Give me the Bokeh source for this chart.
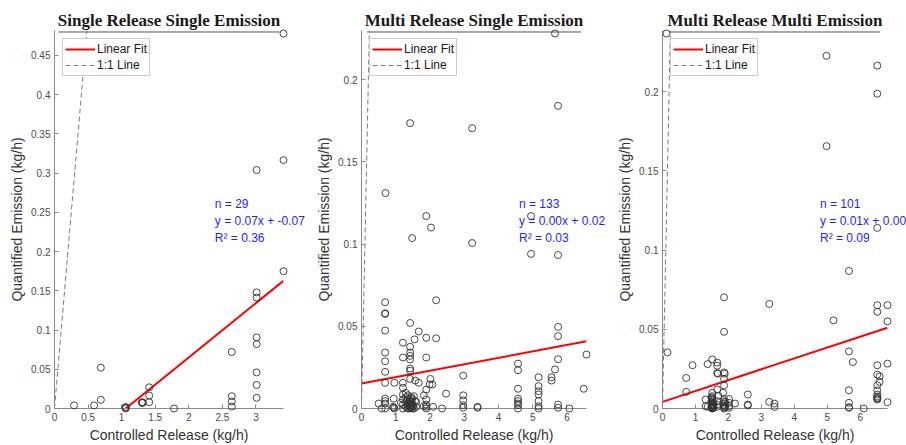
from bokeh.plotting import figure
from bokeh.layouts import row
from bokeh.models import Range1d, FixedTicker, Legend, LegendItem, ColumnDataSource
from bokeh.core.properties import value
from bokeh.embed import file_html
from bokeh.resources import INLINE

# ---------------- data ----------------
titles = ["Single Release Single Emission",
          "Multi Release Single Emission",
          "Multi Release Multi Emission"]

x_sse = [0.29, 0.59, 0.69, 0.69, 1.06, 1.06, 1.06, 1.30, 1.31, 1.31, 1.41, 1.41, 1.41, 1.78,
         2.64, 2.64, 2.64, 2.64, 3.01, 3.01, 3.01, 3.01, 3.01, 3.01, 3.01, 3.01, 3.41, 3.41, 3.41]
y_sse = [0.004, 0.004, 0.052, 0.011, 0.000, 0.001, 0.002, 0.0076, 0.007, 0.008, 0.008, 0.0165, 0.027, 0.000,
         0.072, 0.0157, 0.009, 0.0025, 0.304, 0.148, 0.1415, 0.0907, 0.082, 0.046, 0.030, 0.0136, 0.478, 0.3166, 0.175]

x_mrse = [5.65, 5.74, 1.42, 3.23, 0.70, 1.89, 4.95, 2.03, 1.48, 3.23, 4.95, 5.74,
          0.69, 0.69, 0.69, 0.69, 0.69, 0.69, 0.69, 0.69, 0.69, 0.69, 0.69,
          0.50, 0.59,
          0.96, 0.94, 0.92, 0.94,
          1.21, 1.21, 1.21, 1.21, 1.21, 1.21, 1.21,
          1.15, 1.29, 1.34, 1.34,
          1.42, 1.42, 1.42, 1.42, 1.42, 1.42, 1.42, 1.42, 1.42, 1.42, 1.42, 1.42, 1.42, 1.42,
          1.55, 1.67, 1.57, 1.67, 1.53, 1.56, 1.53,
          1.82, 1.82, 1.89, 1.89, 1.89, 1.89, 1.89,
          2.01, 2.07, 1.99, 2.09,
          2.18, 2.18,
          2.35, 2.47,
          2.97, 2.97, 2.97, 2.97,
          3.39, 3.39,
          4.57, 4.57, 4.57, 4.57, 4.57, 4.57, 4.57,
          5.17, 5.17, 5.17, 5.17, 5.17, 5.17,
          5.55, 5.55, 5.65,
          5.74, 5.74, 5.74, 5.74, 5.74,
          6.07, 6.49, 6.57,
          1.30, 1.30, 1.30, 1.36, 1.36, 1.40, 1.40, 1.40, 1.45, 1.45, 1.45, 1.45,
          1.48, 1.48, 1.48, 1.50, 1.50, 1.60, 1.60, 0.96, 1.89, 1.89, 0.69, 4.57, 5.17, 2.97, 1.21]
y_mrse = [0.228, 0.184, 0.1735, 0.1704, 0.131, 0.117, 0.117, 0.110, 0.1036, 0.1006, 0.094, 0.0933,
          0.0646, 0.0579, 0.0575, 0.0474, 0.034, 0.0287, 0.0223, 0.0156, 0.006, 0.0045, 0.003,
          0.003, 0.0,
          0.0156, 0.006, 0.001, 0.0005,
          0.040, 0.031, 0.0156, 0.0126, 0.0085, 0.0055, 0.0024,
          0.0034, 0.0095, 0.0045, 0.0,
          0.052, 0.0375, 0.034, 0.032, 0.0298, 0.0243, 0.023, 0.018, 0.006, 0.004, 0.003, 0.002, 0.001, 0.0005,
          0.042, 0.0468, 0.017, 0.0156, 0.0075, 0.0045, 0.0,
          0.008, 0.0014, 0.043, 0.031, 0.0115, 0.0055, 0.0024,
          0.018, 0.0146, 0.0146, 0.001,
          0.0658, 0.0427,
          0.0, 0.009,
          0.020, 0.008, 0.005, 0.002,
          0.001, 0.0005,
          0.0273, 0.0233, 0.012, 0.006, 0.0045, 0.003, 0.0,
          0.019, 0.0136, 0.0105, 0.0085, 0.0045, 0.0014,
          0.019, 0.017, 0.0237,
          0.0496, 0.044, 0.030, 0.0024, 0.0005,
          0.0, 0.012, 0.0328,
          0.001, 0.004, 0.007, 0.002, 0.008, 0.0, 0.003, 0.005, 0.001, 0.002, 0.004, 0.007,
          0.0, 0.003, 0.006, 0.001, 0.002, 0.001, 0.004, 0.0, 0.0, 0.001, 0.0, 0.002, 0.0, 0.0005, 0.0]

x_mrme = [0.12, 4.98, 6.52, 6.52, 4.98, 6.52, 5.66,
          0.15, 0.72, 0.72, 0.91,
          1.37, 1.31, 1.31,
          1.51, 1.51, 1.51, 1.51, 1.51, 1.51, 1.51, 1.51, 1.51, 1.51,
          1.66, 1.66, 1.66, 1.66, 1.66, 1.68, 1.70,
          1.87, 1.87, 1.87, 1.87, 1.87, 1.87, 1.87, 1.87, 1.89, 1.84,
          2.02, 2.02, 2.02, 2.20,
          2.59, 2.59, 2.59,
          3.24, 3.24, 3.40, 3.40,
          5.19,
          5.66, 5.66, 5.66, 5.66, 5.78,
          6.11,
          6.52, 6.52, 6.52, 6.52, 6.52, 6.52, 6.52, 6.52, 6.52, 6.59, 6.59,
          6.83, 6.83, 6.83, 6.83,
          1.51, 1.51, 1.51, 1.51, 1.51, 1.51, 1.51, 1.51,
          1.48, 1.48, 1.48, 1.55, 1.55, 1.55,
          1.87, 1.87, 1.87, 1.87, 1.90, 1.90, 1.66, 1.66, 2.02, 6.52, 6.52, 5.66, 1.37]
y_mrme = [0.2367, 0.2226, 0.2164, 0.1987, 0.1656, 0.114, 0.0868,
          0.0354, 0.0193, 0.0105, 0.0273,
          0.028, 0.0057, 0.0015,
          0.031, 0.0099, 0.0078, 0.0057, 0.004, 0.0025, 0.0015, 0.0008, 0.0004, 0.0,
          0.029, 0.027, 0.0224, 0.012, 0.0046, 0.022, 0.008,
          0.0702, 0.0484, 0.0228, 0.0187, 0.0145, 0.0046, 0.0015, 0.0, 0.022, 0.0099,
          0.006, 0.0036, 0.0004, 0.0031,
          0.0088, 0.0025, 0.0019,
          0.066, 0.0042, 0.0031, 0.001,
          0.0556,
          0.036, 0.0115, 0.0036, 0.0008, 0.0293,
          0.0,
          0.0652, 0.061, 0.0273, 0.0214, 0.0147, 0.0115, 0.0088, 0.0067, 0.0057, 0.0203, 0.0168,
          0.0652, 0.055, 0.0283, 0.004,
          0.0001, 0.0003, 0.0006, 0.001, 0.002, 0.003, 0.005, 0.0065,
          0.001, 0.004, 0.007, 0.0005, 0.002, 0.0035,
          0.0005, 0.002, 0.003, 0.006, 0.001, 0.004, 0.001, 0.0025, 0.0015, 0.0062, 0.0075, 0.0005, 0.001]

fit_slope = [0.0693, 0.0039, 0.00685]
fit_intercept = [-0.0735, 0.0152, 0.0042]

n_labels = ["n = 29", "n = 133", "n = 101"]
eq_labels = ["y = 0.07x + -0.07", "y = 0.00x + 0.02", "y = 0.01x + 0.00"]
r2_labels = ["R\u00b2 = 0.36", "R\u00b2 = 0.03", "R\u00b2 = 0.09"]

x_ticks_1 = [0, 0.5, 1, 1.5, 2, 2.5, 3]
x_tick_labels_1 = ["0", "0.5", "1", "1.5", "2", "2.5", "3"]
y_ticks_1 = [0, 0.05, 0.1, 0.15, 0.2, 0.25, 0.3, 0.35, 0.4, 0.45]
y_tick_labels_1 = ["0", "0.05", "0.1", "0.15", "0.2", "0.25", "0.3", "0.35", "0.4", "0.45"]
x_ticks_2 = [0, 1, 2, 3, 4, 5, 6]
x_tick_labels_2 = ["0", "1", "2", "3", "4", "5", "6"]
y_ticks_2 = [0, 0.05, 0.1, 0.15, 0.2]
y_tick_labels_2 = ["0", "0.05", "0.1", "0.15", "0.2"]

x_label = "Controlled Release (kg/h)"
y_label = "Quantified Emission (kg/h)"
legend_labels = ["Linear Fit", "1:1 Line"]

# ---------------- styling ----------------
SANS = "Liberation Sans"
FIG_H = 445
B_TOP, B_BOTTOM = 30, 36
FRAME_H = FIG_H - B_TOP - B_BOTTOM
FRAME_W = 229
TOP_PAD = 3  # px between highest data value and frame top
AX_COL = "#8a8a8a"
TXT_COL = "#4a4a4a"


def make_panel(title, xs, ys, slope, intercept, txt, xt, xtl, yt, ytl,
               width, b_left, b_right, underline_w):
    x_end = max(xs)
    y_end = max(ys) * FRAME_H / (FRAME_H - TOP_PAD)
    p = figure(width=width, height=FIG_H, x_range=Range1d(0, x_end), y_range=Range1d(0, y_end),
               output_backend="svg", toolbar_location=None,
               min_border_left=b_left, min_border_right=b_right,
               min_border_top=B_TOP, min_border_bottom=B_BOTTOM,
               x_axis_label=x_label, y_axis_label=y_label)
    p.outline_line_color = None
    p.grid.visible = False
    p.background_fill_color = "white"

    p.title.text = title
    p.title.text_font = "Liberation Serif"
    p.title.text_font_style = "bold"
    p.title.text_font_size = "17px"
    p.title.text_color = "#1a1a1a"
    p.title.align = "center"
    p.title.standoff = 2

    for ax, ticks, labels in ((p.xaxis[0], xt, xtl), (p.yaxis[0], yt, ytl)):
        ax.ticker = FixedTicker(ticks=ticks)
        ax.major_label_overrides = dict(zip(ticks, labels))
        ax.axis_line_color = AX_COL
        ax.major_tick_line_color = AX_COL
        ax.minor_tick_line_color = None
        ax.major_tick_in = 4
        ax.major_tick_out = 0
        ax.major_label_text_font = SANS
        ax.major_label_text_font_size = "10px"
        ax.major_label_text_color = TXT_COL
        ax.axis_label_text_font = SANS
        ax.axis_label_text_font_size = "14px"
        ax.axis_label_text_font_style = "normal"
        ax.axis_label_text_color = "#333333"
        ax.major_label_standoff = 4
        ax.axis_label_standoff = 3

    # underline of the title
    px_x = FRAME_W / x_end
    px_y = FRAME_H / y_end
    half = underline_w / 2.0 / px_x
    xc = x_end / 2.0
    uy = y_end - 1.5 / px_y
    p.segment(x0=[xc - half], y0=[uy], x1=[xc + half], y1=[uy], line_color="#555555", line_width=1)

    # 1:1 line
    m = min(x_end, y_end)
    one = p.line([0, m], [0, m], line_color="#7a7a7a", line_width=1, line_dash="5 3")
    # linear fit
    fx = [0, x_end]
    fy = [slope * v + intercept for v in fx]
    fit = p.line(fx, fy, line_color="#ff0000", line_width=2)

    sc = p.scatter(xs, ys, size=7, marker="circle", fill_color=None,
                   line_color="#333333", line_width=0.9)
    sc.level = "overlay"

    leg = Legend(items=[LegendItem(label=legend_labels[0], renderers=[fit]),
                        LegendItem(label=legend_labels[1], renderers=[one])],
                 location=(8, 332), padding=2, spacing=0,
                 label_height=16, glyph_height=16, glyph_width=30, label_standoff=2,
                 label_text_font=SANS, label_text_font_size="12px", label_text_color="#1a1a1a",
                 border_line_color="#9a9a9a", border_line_width=1, background_fill_alpha=1)
    p.add_layout(leg)

    tx = 0.7 * x_end
    ty = 0.5 * max(ys)
    src = ColumnDataSource(dict(x=[tx] * 3, y=[ty] * 3, t=txt, dy=[-17, 0, 17]))
    tr = p.text(x="x", y="y", text="t", y_offset="dy", source=src, text_baseline="middle",
                text_align="left", text_font=value(SANS), text_font_size="12px",
                text_color="#1f1fff")
    tr.level = "overlay"
    return p


p1 = make_panel(titles[0], x_sse, y_sse, fit_slope[0], fit_intercept[0],
                [n_labels[0], eq_labels[0], r2_labels[0]],
                x_ticks_1, x_tick_labels_1, y_ticks_1, y_tick_labels_1, 313, 54, 30, 221)
p2 = make_panel(titles[1], x_mrse, y_mrse, fit_slope[1], fit_intercept[1],
                [n_labels[1], eq_labels[1], r2_labels[1]],
                x_ticks_2, x_tick_labels_2, y_ticks_2, y_tick_labels_2, 301, 44, 28, 218)
p3 = make_panel(titles[2], x_mrme, y_mrme, fit_slope[2], fit_intercept[2],
                [n_labels[2], eq_labels[2], r2_labels[2]],
                x_ticks_2, x_tick_labels_2, y_ticks_2, y_tick_labels_2, 292, 44, 19, 214)

layout = row(p1, p2, p3, spacing=0)
open("out.html", "w").write(file_html(layout, INLINE))
